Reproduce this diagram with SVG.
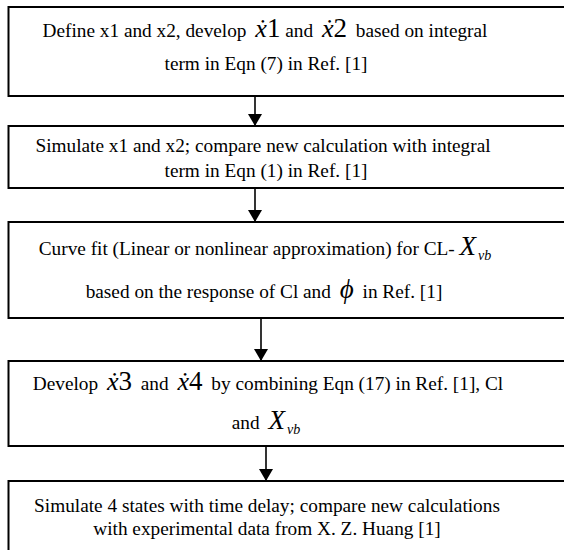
<svg xmlns="http://www.w3.org/2000/svg" width="564" height="550" viewBox="0 0 564 550">
<style>
.box{fill:#fff;stroke:#000;stroke-width:2}
.t{font-family:'Liberation Serif',serif;font-size:19.3px;fill:#000;text-anchor:middle}
.m{font-style:italic;font-size:26px}
.n{font-size:27px}
.big{font-style:italic;font-size:27px}
.sub{font-style:italic;font-size:14px}
.conn{stroke:#000;stroke-width:1.6;fill:none}
</style>
<defs>
<marker id="ah" viewBox="0 0 12 14" refX="12" refY="7" markerWidth="12" markerHeight="14" markerUnits="userSpaceOnUse" orient="auto">
<path d="M0,0 L12,7 L0,14 Z" fill="#000"/>
</marker>
</defs>
<rect width="564" height="550" fill="#fff"/>
<g id="connectors">
<line class="conn" x1="255" y1="96" x2="255" y2="126" marker-end="url(#ah)"/>
<line class="conn" x1="255" y1="188" x2="255" y2="222" marker-end="url(#ah)"/>
<line class="conn" x1="261" y1="318" x2="261" y2="361" marker-end="url(#ah)"/>
<line class="conn" x1="266" y1="446" x2="266" y2="481" marker-end="url(#ah)"/>
</g>
<g id="n1">
<rect class="box" x="8.5" y="7" width="570" height="89"/>
<text class="t" x="265" y="37">Define x1 and x2, develop <tspan class="m" dx="4">ẋ</tspan><tspan class="n">1</tspan> and <tspan class="m" dx="4">ẋ</tspan><tspan class="n">2</tspan><tspan dx="4"> based on integral</tspan></text>
<text class="t" x="266" y="70">term in Eqn (7) in Ref. [1]</text>
</g>
<g id="n2">
<rect class="box" x="8.5" y="126" width="570" height="62"/>
<text class="t" x="263" y="152">Simulate x1 and x2; compare new calculation with integral</text>
<text class="t" x="266" y="177">term in Eqn (1) in Ref. [1]</text>
</g>
<g id="n3">
<rect class="box" x="8.5" y="222" width="570" height="96"/>
<text class="t" x="265" y="255">Curve fit (Linear or nonlinear approximation) for CL- <tspan class="big">X</tspan><tspan class="sub" dx="2" dy="5">vb</tspan></text>
<text class="t" x="264" y="298">based on the response of Cl and <tspan class="big" dx="4">ϕ</tspan><tspan dx="4"> in Ref. [1]</tspan></text>
</g>
<g id="n4">
<rect class="box" x="8.5" y="361" width="570" height="85"/>
<text class="t" x="268" y="390">Develop <tspan class="m" dx="4">ẋ</tspan><tspan class="n">3</tspan><tspan dx="4"> and </tspan><tspan class="m" dx="4">ẋ</tspan><tspan class="n">4</tspan><tspan dx="4"> by combining Eqn (17) in Ref. [1], Cl</tspan></text>
<text class="t" x="266" y="429">and <tspan class="big" dx="4">X</tspan><tspan class="sub" dx="2" dy="5">vb</tspan></text>
</g>
<g id="n5">
<rect class="box" x="8.5" y="481" width="570" height="80"/>
<text class="t" x="267" y="512">Simulate 4 states with time delay; compare new calculations</text>
<text class="t" x="267" y="535">with experimental data from X. Z. Huang [1]</text>
</g>
</svg>
